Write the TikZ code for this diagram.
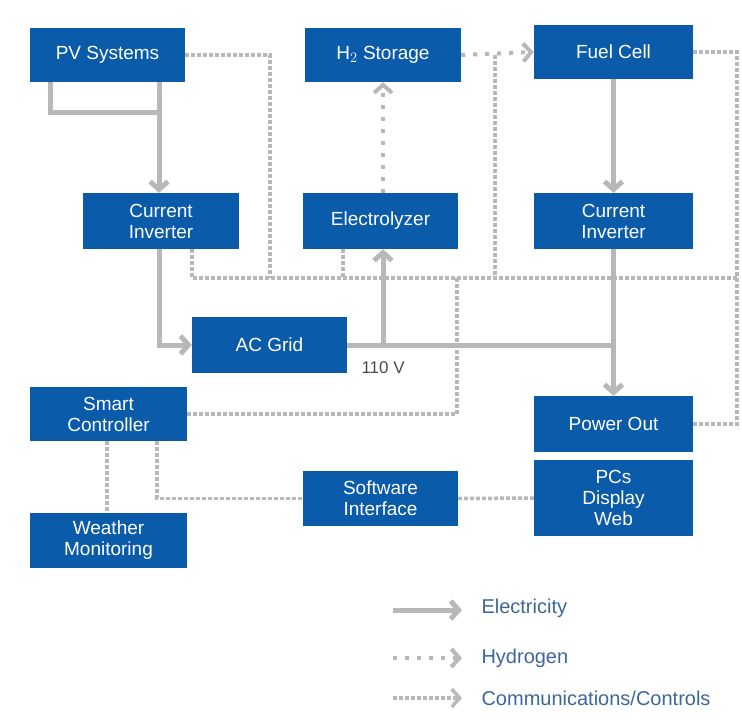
\documentclass[tikz,border=0pt]{standalone}
\usepackage{fontspec}
\setmainfont{Liberation Sans}
\usetikzlibrary{arrows.meta,calc}
\definecolor{boxblue}{HTML}{0B5BAB}
\definecolor{linegray}{HTML}{B8B8B8}
\definecolor{legtext}{HTML}{3D679B}
\begin{document}
\begin{tikzpicture}[x=1pt,y=-1pt,
  blk/.style={draw=none,fill=boxblue,text=white,align=center,inner sep=0pt,
    font=\fontsize{19}{21}\selectfont},
  tipc/.style={-{Straight Barb[length=8pt,width=18pt]}},
  elec/.style={draw=linegray,line width=5pt},
  hyd/.style={draw=linegray,line width=4pt,dash pattern=on 4pt off 8pt},
  comm/.style={draw=linegray,line width=3.5pt,dash pattern=on 4pt off 2pt},
  leg/.style={text=legtext,anchor=west,font=\fontsize{20}{22}\selectfont}]
\useasboundingbox[fill=white] (0,0) rectangle (742,720);

% blocks
\node[blk,minimum width=155pt,minimum height=54pt] (pv) at (107.5,55) {PV Systems};
\node[blk,minimum width=156pt,minimum height=54pt] (h2) at (383,55) {H$_2$ Storage};
\node[blk,minimum width=159pt,minimum height=54pt] (fc) at (613.5,52) {Fuel Cell};
\node[blk,minimum width=156pt,minimum height=56pt] (ci1) at (161,221) {Current\\Inverter};
\node[blk,minimum width=155pt,minimum height=56pt] (el) at (380.5,221) {Electrolyzer};
\node[blk,minimum width=159pt,minimum height=56pt] (ci2) at (613.5,221) {Current\\Inverter};
\node[blk,minimum width=155pt,minimum height=56pt] (ac) at (269.5,345) {AC Grid};
\node[blk,minimum width=157pt,minimum height=54pt] (sc) at (108.5,414) {Smart\\Controller};
\node[blk,minimum width=157pt,minimum height=55pt] (wm) at (108.5,540.5) {Weather\\Monitoring};
\node[blk,minimum width=155pt,minimum height=55pt] (si) at (380.5,498.5) {Software\\Interface};
\node[blk,minimum width=159pt,minimum height=56pt] (po) at (613.5,424) {Power Out};
\node[blk,minimum width=159pt,minimum height=76pt] (pc) at (613.5,498) {PCs\\Display\\Web};

% communications
\draw[comm] (pv.east) -| (270,278);
\draw[comm] (ci1.south -| 192,0) |- (737,278);
\draw[comm] (el.south -| 343,0) -- (343,278);
\draw[comm] (h2.east -| 495,0) -- (495,278);
\draw[comm] (sc.east) -| (457,278);
\draw[comm] (fc.east) -| (737,0 |- po.east) -- (po.east);
\draw[comm] (sc.south -| 107,0) -- (wm.north -| 107,0);
\draw[comm] (sc.south -| 157,0) |- (si.west);
\draw[comm] (si.east) -- (pc.west);

% hydrogen
\draw[hyd,tipc] (el.north -| 383,0) -- (h2.south -| 383,0);
\draw[hyd,tipc] (h2.east) -- (fc.west);

% electricity
\draw[elec] (pv.south -| 50,0) |- (159,112);
\draw[elec,tipc] (pv.south -| 159,0) -- (ci1.north -| 159,0);
\draw[elec,tipc] (ci1.south -| 159,0) |- (ac.west);
\draw[elec] (ac.east) -- (ac.east -| ci2.south);
\draw[elec,tipc] (ac.east -| 383,0) -- (el.south -| 383,0);
\draw[elec,tipc] (fc.south) -- (ci2.north);
\draw[elec,tipc] (ci2.south) -- (po.north);
\node[anchor=west,text=black!70,font=\fontsize{17}{19}\selectfont] (v110) at (358,368) {110 V};

% legend
\coordinate (l1a) at (393,610); \coordinate (l1b) at (462,610);
\coordinate (l2a) at (393,658); \coordinate (l2b) at (462,658);
\coordinate (l3a) at (393,698); \coordinate (l3b) at (462,698);
\draw[elec,tipc] (l1a) -- (l1b);
\draw[hyd,tipc] (l2a) -- (l2b);
\draw[comm,tipc] (l3a) -- (l3b);
\node[leg] (t1) at (478,608) {Electricity};
\node[leg] (t2) at (478,658) {Hydrogen};
\node[leg] (t3) at (478,698) {Communications/Controls};
\end{tikzpicture}
\end{document}
